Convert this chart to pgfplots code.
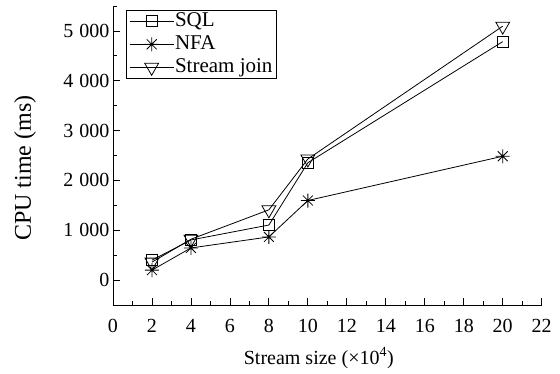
\documentclass[border=0pt]{standalone}
\usepackage{fontspec}
\setmainfont{Liberation Serif}
\usepackage{pgfplots}
\pgfplotsset{compat=1.18}
\pgfdeclareplotmark{ast8}{%
  \pgfpathmoveto{\pgfqpoint{-\pgfplotmarksize}{0pt}}%
  \pgfpathlineto{\pgfqpoint{\pgfplotmarksize}{0pt}}%
  \pgfpathmoveto{\pgfqpoint{0pt}{-\pgfplotmarksize}}%
  \pgfpathlineto{\pgfqpoint{0pt}{\pgfplotmarksize}}%
  \pgfpathmoveto{\pgfqpoint{-0.7071\pgfplotmarksize}{-0.7071\pgfplotmarksize}}%
  \pgfpathlineto{\pgfqpoint{0.7071\pgfplotmarksize}{0.7071\pgfplotmarksize}}%
  \pgfpathmoveto{\pgfqpoint{-0.7071\pgfplotmarksize}{0.7071\pgfplotmarksize}}%
  \pgfpathlineto{\pgfqpoint{0.7071\pgfplotmarksize}{-0.7071\pgfplotmarksize}}%
  \pgfusepathqstroke}
\begin{document}
\begin{tikzpicture}
\useasboundingbox (-113pt,-68pt) rectangle (447pt,305pt);
\begin{axis}[
  at={(0,0)}, anchor=south west,
  scale only axis, width=428.7pt, height=299pt,
  xmin=0, xmax=22, ymin=-500, ymax=5500,
  xtick={0,2,...,22}, minor xtick={1,3,...,21},
  ytick={0,1000,...,5000}, minor ytick={-500,500,...,5500},
  axis x line*=bottom, axis y line*=left,
  tick align=inside,
  major tick length=7pt, minor tick length=4pt,
  every tick/.style={black, line width=0.8pt},
  axis line style={line width=0.8pt},
  font=\fontsize{20}{24}\selectfont,
  xticklabel style={yshift=-11pt},
  /pgf/number format/assume math mode=true,
  /pgf/number format/1000 sep={\hspace{0.3em}},
  scaled y ticks=false,
  xlabel={Stream size (×10\textsuperscript{4})},
  ylabel={CPU time (ms)},
  xlabel style={at={(axis description cs:0.48,-0.177)}, anchor=center},
  ylabel style={at={(axis description cs:-0.205,0.458)}, anchor=center, font=\fontsize{24}{28}\selectfont},
  legend style={at={(axis description cs:0.030,0.987)}, anchor=north west,
    draw=black, line width=0.8pt, inner xsep=3pt, inner ysep=0pt, row sep=1pt,
    font=\fontsize{21}{24}\selectfont,
    nodes={inner xsep=1pt, inner ysep=1pt, text height=15pt, text depth=5pt}},
  legend cell align=left,
  legend image code/.code={%
    \draw[mark repeat=2, mark phase=2] plot coordinates {(0pt,0pt) (22pt,0pt) (44pt,0pt)};},
  every axis plot/.append style={black, line width=0.8pt, mark options={solid, fill=white}},
]
\addplot[mark=square, mark size=5.5pt] coordinates {(2,400)(4,805)(8,1105)(10,2355)(20,4785)};
\addlegendentry{SQL}
\addplot[mark=ast8, mark size=7pt] coordinates {(2,200)(4,645)(8,866)(10,1597)(20,2485)};
\addlegendentry{NFA}
\addplot[mark=triangle, mark size=8pt, mark options={rotate=180, fill=none}] coordinates {(2,360)(4,820)(8,1410)(10,2430)(20,5095)};
\addlegendentry{Stream join}
\end{axis}
\end{tikzpicture}
\end{document}
